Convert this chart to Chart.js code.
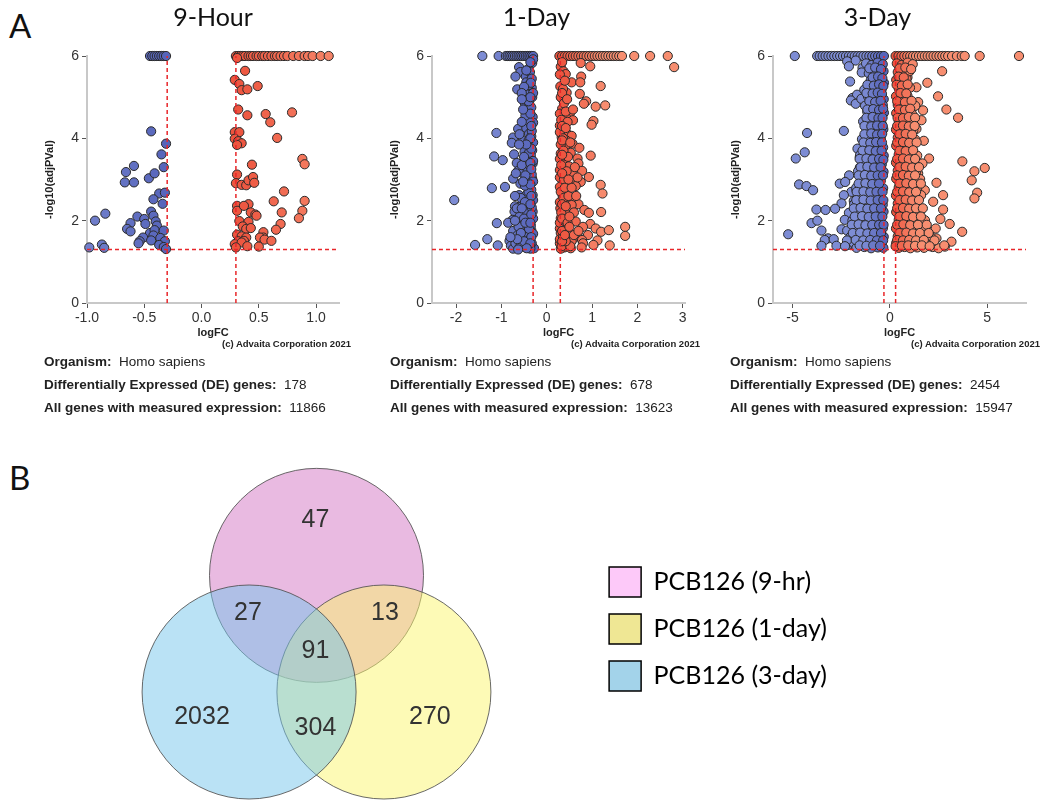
<!DOCTYPE html>
<html>
<head>
<meta charset="utf-8">
<script src="https://cdn.jsdelivr.net/npm/chart.js@4.4.1/dist/chart.umd.min.js"></script>
<style>
  body { margin: 0; background: #fff; width: 1050px; height: 807px; position: relative; overflow: hidden; }
  canvas { position: absolute; }
  .tag { position: absolute; font-family: Lato, sans-serif; font-size: 33px; color: #111; line-height: 1; }
  .copy { position: absolute; font-family: "Liberation Sans Narrow", "Liberation Sans", sans-serif; font-weight: bold; font-size: 9.5px; color: #222; text-align: right; width: 200px; line-height: 12px; }
  .info { position: absolute; font-family: "Liberation Sans Narrow", "Liberation Sans", sans-serif; font-size: 13.5px; color: #222; line-height: 23px; white-space: nowrap; }
  .info b { font-weight: bold; }
</style>
</head>
<body>
<div class="tag" style="left:9px; top:9px">A</div>
<div class="tag" style="left:9px; top:461px">B</div>

<canvas id="c9h" width="350" height="340" style="left:0px; top:0px"></canvas>
<canvas id="c1d" width="345" height="340" style="left:350px; top:0px"></canvas>
<canvas id="c3d" width="336" height="340" style="left:700px; top:0px"></canvas>
<canvas id="venn" width="707" height="370" style="left:130px; top:440px"></canvas>

<script>
// ---- data ----
const titles = ["9-Hour", "1-Day", "3-Day"];
const deCounts = [178, 678, 2454];
const allCounts = [11866, 13623, 15947];
const organism = "Homo sapiens";

const xTicks9h = [-1.0, -0.5, 0.0, 0.5, 1.0];
const xTicks1d = [-2, -1, 0, 1, 2, 3];
const xTicks3d = [-5, 0, 5];
const yTicks = [0, 2, 4, 6];

const fcCut = 0.3;   // |logFC| threshold
const pCut = 1.3;    // -log10(0.05)

// 9-hour, down (blue) and up (red): [logFC, -log10(adjP)]
const down9h = [
  [-0.45,6],[-0.43,6],[-0.41,6],[-0.39,6],[-0.37,6],[-0.35,6],[-0.33,6],[-0.31,6],
  [-0.44,4.17],[-0.31,3.87],[-0.35,3.61],[-0.33,3.30],[-0.59,3.33],[-0.66,3.18],[-0.67,2.93],[-0.59,2.93],
  [-0.46,3.03],[-0.41,3.15],[-0.37,2.66],[-0.32,2.68],[-0.42,2.52],[-0.34,2.41],[-0.84,2.17],[-0.93,2.00],
  [-0.44,2.22],[-0.42,2.12],[-0.56,2.10],[-0.50,2.04],[-0.62,1.94],[-0.49,1.92],[-0.40,1.98],[-0.39,1.88],
  [-0.65,1.80],[-0.62,1.74],[-0.45,1.70],[-0.41,1.77],[-0.33,1.76],[-0.51,1.59],[-0.42,1.64],[-0.54,1.50],
  [-0.55,1.45],[-0.44,1.52],[-0.36,1.58],[-0.32,1.50],[-0.98,1.35],[-0.87,1.42],[-0.85,1.34],[-0.37,1.41],
  [-0.33,1.36],[-0.31,1.31]
];
const up9h = [
  [0.30,6],[0.32,6],[0.34,6],[0.36,6],[0.38,6],[0.41,6],[0.43,6],[0.45,6],[0.48,6],[0.50,6],[0.53,6],[0.55,6],
  [0.58,6],[0.61,6],[0.64,6],[0.66,6],[0.69,6],[0.72,6],[0.75,6],[0.80,6],[0.85,6],[0.90,6],[0.93,6],[0.97,6],
  [1.04,6],[1.11,6],
  [0.31,5.95],[0.38,5.64],[0.29,5.42],[0.33,5.32],[0.35,5.17],[0.40,5.19],[0.49,5.27],[0.32,4.70],[0.40,4.56],
  [0.56,4.59],[0.60,4.39],[0.79,4.63],[0.66,4.01],[0.29,4.15],[0.33,4.15],[0.29,3.99],[0.32,3.93],[0.35,3.88],
  [0.31,3.84],[0.44,3.36],[0.88,3.50],[0.90,3.37],[0.31,3.12],[0.30,2.91],[0.35,2.87],[0.39,2.86],[0.41,2.98],
  [0.45,3.06],[0.46,2.92],[0.72,2.71],[0.63,2.47],[0.90,2.48],[0.31,2.36],[0.31,2.24],[0.41,2.40],[0.37,2.36],
  [0.43,2.20],[0.47,2.15],[0.48,2.12],[0.70,2.20],[0.88,2.24],[0.85,2.06],[0.33,1.99],[0.41,1.97],[0.36,1.86],
  [0.39,1.80],[0.43,1.82],[0.69,1.92],[0.65,1.78],[0.31,1.66],[0.35,1.62],[0.39,1.59],[0.32,1.50],[0.37,1.51],
  [0.29,1.43],[0.35,1.47],[0.40,1.38],[0.54,1.72],[0.54,1.59],[0.51,1.59],[0.55,1.54],[0.61,1.51],[0.50,1.37],
  [0.30,1.35]
];

// 1-day
const down1d = [
  [-1.42,6],[-1.06,6],[-0.90,6],[-0.86,6],[-0.82,6],[-0.78,6],[-0.74,6],[-0.70,6],[-0.66,6],[-0.62,6],[-0.58,6],
  [-0.54,6],[-0.50,6],[-0.46,6],[-0.42,6],[-0.38,6],[-0.34,6],[-0.30,6],
  [-0.32,5.83],[-0.61,5.73],[-0.40,5.69],[-0.58,5.61],[-0.69,5.50],[-0.46,5.50],[-0.37,5.61],[-0.45,5.36],
  [-0.33,5.23],[-0.65,5.19],[-0.50,4.98],[-0.42,5.06],[-0.48,4.85],[-0.38,4.82],[-0.32,5.00],[-0.44,4.60],
  [-0.40,4.48],[-0.31,4.52],[-0.63,4.23],[-0.45,4.25],[-0.39,4.11],[-1.11,4.13],[-0.74,4.02],[-0.77,3.89],
  [-0.53,3.95],[-0.34,4.05],[-0.41,3.79],[-0.32,3.71],[-0.49,3.67],[-1.16,3.56],[-0.97,3.47],[-0.72,3.61],
  [-0.66,3.40],[-0.41,3.50],[-0.31,3.39],[-0.63,3.21],[-0.53,3.15],[-0.42,3.23],[-0.74,3.02],[-0.45,3.02],
  [-0.32,3.02],[-0.58,2.90],[-1.21,2.79],[-0.92,2.82],[-0.38,2.82],[-0.61,2.62],[-0.45,2.62],[-0.31,2.62],
  [-2.04,2.50],[-0.70,2.35],[-0.53,2.42],[-0.38,2.35],[-0.71,2.22],[-0.45,2.22],[-0.31,2.22],[-0.60,2.10],
  [-0.75,2.02],[-0.85,1.95],[-1.10,1.94],[-0.56,1.90],[-0.38,1.94],[-0.74,1.75],[-0.50,1.75],[-0.34,1.77],
  [-0.64,1.65],[-0.44,1.61],[-1.31,1.55],[-0.82,1.51],[-0.58,1.53],[-0.39,1.53],[-1.58,1.41],[-1.08,1.40],
  [-0.79,1.39],[-0.74,1.32],[-0.47,1.35],[-0.34,1.37],[-0.28,1.33],
  [-0.30,5.92],[-0.33,5.45],[-0.30,5.10],[-0.34,4.75],[-0.30,4.38],[-0.33,4.18],[-0.30,3.90],[-0.35,3.58],
  [-0.30,3.45],[-0.33,3.12],[-0.30,2.95],[-0.34,2.75],[-0.30,2.50],[-0.33,2.32],[-0.30,2.05],[-0.35,1.88],
  [-0.30,1.68],[-0.33,1.45],[-0.36,1.32],[-0.39,5.30],[-0.40,4.90],[-0.38,4.40],[-0.40,3.95],[-0.39,3.65],
  [-0.38,3.35],[-0.40,2.70],[-0.38,2.45],[-0.41,2.05],[-0.39,1.80],[-0.40,1.45],[-0.48,2.85],[-0.50,2.05],
  [-0.52,1.40],[-0.55,3.35],[-0.47,4.55],[-0.57,2.55],[-0.62,1.85],[-0.66,2.30],[-0.69,1.45],[-0.60,1.35],
  [-0.36,5.85],[-0.45,5.65],[-0.35,5.35],[-0.50,5.25],[-0.36,5.00],[-0.55,5.10],[-0.36,4.60],[-0.52,4.70],
  [-0.34,4.30],[-0.55,4.40],[-0.36,4.00],[-0.60,4.10],[-0.34,3.75],[-0.45,3.85],[-0.36,3.40],[-0.50,3.55],
  [-0.34,3.25],[-0.47,3.10],[-0.36,2.88],[-0.52,2.95],[-0.34,2.60],[-0.48,2.45],[-0.36,2.40],[-0.55,2.30],
  [-0.34,2.15],[-0.47,1.95],[-0.36,1.95],[-0.57,1.70],[-0.34,1.60],[-0.50,1.50],[-0.36,1.45],[-0.44,1.33],
  [-0.65,1.55],[-0.70,2.60],[-0.68,3.15],[-0.61,3.85],[-0.55,4.95],[-0.70,2.00],[-0.80,1.60],[-0.63,1.30]
];
const up1d = [
  [0.28,6],[0.34,6],[0.40,6],[0.46,6],[0.52,6],[0.58,6],[0.64,6],[0.70,6],[0.76,6],[0.82,6],[0.88,6],[0.94,6],
  [1.00,6],[1.06,6],[1.12,6],[1.18,6],[1.24,6],[1.30,6],[1.36,6],[1.42,6],[1.48,6],[1.54,6],[1.60,6],[1.66,6],
  [1.93,6],[2.28,6],[2.67,6],[2.81,5.73],
  [0.75,5.83],[0.31,5.74],[0.37,5.63],[0.42,5.56],[0.96,5.75],[0.76,5.50],[0.55,5.36],[0.74,5.36],[0.30,5.26],
  [1.19,5.27],[0.44,5.11],[0.73,5.08],[0.33,4.98],[0.87,4.90],[0.82,4.84],[1.08,4.77],[1.29,4.80],[0.34,4.72],
  [0.52,4.63],[0.42,4.52],[0.58,4.44],[1.03,4.42],[0.99,4.33],[0.29,4.31],[0.38,4.23],[0.46,4.10],[0.55,4.06],
  [0.33,4.03],[0.43,3.95],[0.57,3.87],[0.72,3.77],[0.41,3.79],[0.31,3.63],[0.53,3.65],[0.97,3.58],[0.68,3.51],
  [0.39,3.43],[0.70,3.39],[0.49,3.32],[0.29,3.23],[0.78,3.21],[0.57,3.16],[0.93,3.06],[0.39,2.98],[0.61,2.98],
  [0.75,2.94],[1.19,2.87],[0.29,2.82],[0.50,2.78],[0.64,2.84],[1.23,2.66],[0.35,2.62],[0.41,2.50],[0.57,2.48],
  [0.70,2.40],[0.55,2.38],[0.30,2.30],[0.83,2.26],[0.93,2.19],[1.20,2.21],[0.44,2.16],[0.31,2.06],[0.53,2.02],
  [0.64,1.98],[0.96,1.92],[0.41,1.87],[0.80,1.85],[0.29,1.81],[1.08,1.81],[1.20,1.73],[1.37,1.77],[1.73,1.85],
  [0.50,1.71],[0.68,1.69],[0.91,1.65],[1.73,1.63],[0.35,1.61],[0.59,1.57],[0.78,1.53],[1.12,1.52],[0.29,1.45],
  [0.50,1.45],[0.80,1.45],[1.03,1.41],[1.39,1.40],[0.39,1.35],[0.53,1.33],[0.77,1.35],[0.31,1.32],
  [0.29,5.55],[0.31,5.00],[0.29,4.60],[0.32,4.45],[0.29,4.15],[0.31,3.85],[0.29,3.50],[0.32,3.35],[0.29,3.05],
  [0.31,2.70],[0.29,2.45],[0.32,2.20],[0.29,1.95],[0.31,1.70],[0.29,1.55],[0.33,1.38],[0.36,5.20],[0.38,4.85],
  [0.36,4.00],[0.37,3.70],[0.38,3.00],[0.37,2.55],[0.38,2.00],[0.36,1.60],[0.45,1.75],[0.48,2.60],[0.47,3.55],
  [0.46,4.40],[0.55,1.50],[0.60,2.20],[0.62,3.30],[0.52,1.38],
  [0.34,5.85],[0.40,5.40],[0.34,5.10],[0.45,4.95],[0.34,4.30],[0.42,4.65],[0.34,3.95],[0.42,4.25],[0.34,3.60],
  [0.44,3.20],[0.34,3.15],[0.40,2.80],[0.34,2.40],[0.42,2.35],[0.34,2.05],[0.46,1.95],[0.34,1.75],[0.42,1.50],
  [0.34,1.50],[0.40,1.65],[0.50,2.10],[0.55,2.80],[0.52,3.90],[0.58,4.70],[0.60,1.65],[0.65,2.60],[0.70,1.75],
  [0.68,3.05],[0.48,3.00],[0.50,1.85]
];

// 3-day
const down3d = [
  [-4.88,6],[-3.73,6],[-3.60,6],[-3.45,6],[-3.30,6],[-3.15,6],[-3.00,6],[-2.85,6],[-2.70,6],[-2.55,6],[-2.40,6],
  [-2.25,6],[-2.10,6],[-1.95,6],[-1.80,6],[-1.65,6],[-1.50,6],[-1.35,6],[-1.20,6],[-1.05,6],[-0.90,6],[-0.75,6],
  [-0.60,6],[-0.45,6],[-0.30,6],
  [-2.19,5.87],[-1.75,5.89],[-2.10,5.75],[-1.40,5.71],[-1.44,5.60],[-1.03,5.77],[-2.04,5.38],[-0.86,5.56],
  [-1.92,4.98],[-1.68,5.06],[-2.00,4.92],[-1.75,4.84],[-1.46,4.96],[-1.03,5.00],[-0.68,5.24],[-1.16,4.65],
  [-0.94,4.53],[-0.72,4.68],[-2.36,4.18],[-4.25,4.13],[-1.06,4.23],[-0.60,4.19],[-1.66,3.75],[-1.54,3.55],
  [-1.03,3.79],[-0.51,3.87],[-4.37,3.66],[-4.83,3.51],[-1.54,3.29],[-0.86,3.39],[-2.09,3.10],[-1.11,3.06],
  [-4.66,2.88],[-4.28,2.84],[-3.94,2.74],[-2.57,2.90],[-2.29,2.94],[-1.97,2.70],[-2.36,2.62],[-1.71,2.74],
  [-1.03,2.66],[-1.85,2.48],[-1.51,2.42],[-2.48,2.42],[-3.77,2.27],[-3.30,2.26],[-2.81,2.29],[-2.10,2.19],
  [-4.02,1.94],[-3.72,2.00],[-2.31,2.02],[-1.71,2.06],[-1.03,2.02],[-3.51,1.76],[-2.48,1.79],[-2.19,1.76],
  [-5.22,1.67],[-1.54,1.73],[-3.17,1.57],[-3.34,1.53],[-2.88,1.55],[-2.05,1.55],[-1.37,1.61],[-3.51,1.39],
  [-2.74,1.39],[-2.14,1.41],[-1.75,1.37],[-1.03,1.37],[-0.60,1.39],
  [-1.22,5.82],[-0.93,5.78],[-0.62,5.84],[-0.36,5.80],[-1.08,5.58],[-0.79,5.62],[-0.52,5.55],[-0.32,5.63],
  [-0.98,5.41],[-0.74,5.36],[-0.47,5.44],[-0.30,5.35],[-1.31,5.18],[-0.96,5.22],[-0.66,5.15],[-0.41,5.20],
  [-1.12,5.02],[-0.81,4.97],[-0.51,5.04],[-0.31,4.95],[-1.27,4.79],[-0.92,4.83],[-0.61,4.76],[-0.36,4.81],
  [-1.02,4.60],[-0.71,4.64],[-0.46,4.57],[-0.30,4.62],[-1.37,4.41],[-1.01,4.38],[-0.72,4.44],[-0.42,4.36],
  [-1.19,4.20],[-0.86,4.23],[-0.57,4.17],[-0.33,4.22],[-1.43,3.98],[-1.06,4.03],[-0.76,3.96],[-0.46,4.01],
  [-1.28,3.81],[-0.94,3.77],[-0.62,3.83],[-0.34,3.78],[-1.52,3.60],[-1.16,3.63],[-0.82,3.57],[-0.51,3.61],
  [-0.31,3.58],[-1.41,3.42],[-1.04,3.38],[-0.71,3.44],[-0.41,3.37],[-1.63,3.20],[-1.24,3.23],[-0.91,3.17],
  [-0.56,3.22],[-0.32,3.19],[-1.49,3.01],[-1.14,2.98],[-0.79,3.03],[-0.46,2.97],[-1.72,2.80],[-1.36,2.83],
  [-1.01,2.77],[-0.66,2.82],[-0.34,2.79],[-1.57,2.61],[-1.21,2.58],[-0.86,2.63],[-0.51,2.57],[-1.83,2.40],
  [-1.42,2.43],[-1.06,2.37],[-0.71,2.42],[-0.36,2.39],[-1.66,2.21],[-1.31,2.18],[-0.96,2.23],[-0.61,2.17],
  [-0.32,2.22],[-1.92,2.00],[-1.52,2.03],[-1.16,1.97],[-0.81,2.02],[-0.46,1.98],[-1.77,1.81],[-1.41,1.78],
  [-1.06,1.83],[-0.71,1.77],[-0.35,1.82],[-2.03,1.60],[-1.62,1.63],[-1.26,1.57],[-0.91,1.62],[-0.56,1.58],
  [-0.31,1.61],[-1.86,1.46],[-1.46,1.44],[-1.11,1.47],[-0.76,1.43],[-0.41,1.46],[-1.71,1.34],[-1.31,1.36],
  [-0.96,1.33],[-0.61,1.35],[-0.33,1.34],
  [-1.05,5.70],[-0.75,5.72],[-0.45,5.68],[-0.88,5.48],[-0.60,5.50],[-0.38,5.46],[-1.15,5.30],[-0.82,5.28],
  [-0.55,5.31],[-0.33,5.27],[-1.20,5.10],[-0.88,5.09],[-0.62,5.11],[-0.40,5.08],[-1.05,4.90],[-0.75,4.88],
  [-0.47,4.91],[-1.15,4.70],[-0.85,4.71],[-0.55,4.69],[-0.34,4.72],[-1.20,4.50],[-0.88,4.52],[-0.58,4.49],
  [-0.37,4.50],[-1.30,4.30],[-0.95,4.29],[-0.65,4.31],[-0.36,4.30],[-1.30,4.10],[-0.95,4.12],[-0.65,4.09],
  [-0.39,4.11],[-1.35,3.90],[-1.00,3.89],[-0.70,3.91],[-0.40,3.90],[-1.40,3.70],[-1.05,3.71],[-0.72,3.69],
  [-0.42,3.70],[-1.55,3.50],[-1.20,3.51],[-0.88,3.49],[-0.55,3.50],[-0.33,3.48],[-1.50,3.30],[-1.15,3.31],
  [-0.80,3.29],[-0.47,3.30],[-1.60,3.10],[-1.28,3.11],[-0.95,3.09],[-0.62,3.10],[-0.35,3.10],[-1.60,2.90],
  [-1.25,2.91],[-0.90,2.89],[-0.55,2.90],[-1.70,2.70],[-1.35,2.71],[-1.00,2.69],[-0.68,2.70],[-0.37,2.70],
  [-1.72,2.50],[-1.35,2.51],[-0.98,2.49],[-0.62,2.50],[-0.33,2.50],[-1.85,2.30],[-1.50,2.31],[-1.15,2.29],
  [-0.80,2.30],[-0.45,2.30],[-1.80,2.10],[-1.42,2.11],[-1.08,2.09],[-0.72,2.10],[-0.38,2.10],[-1.95,1.90],
  [-1.60,1.91],[-1.25,1.89],[-0.90,1.90],[-0.55,1.90],[-0.32,1.90],[-1.90,1.70],[-1.52,1.71],[-1.15,1.69],
  [-0.80,1.70],[-0.45,1.70],[-2.20,1.52],[-1.75,1.53],[-1.36,1.52],[-1.00,1.53],[-0.66,1.52],[-0.34,1.52],
  [-2.30,1.38],[-1.55,1.40],[-1.20,1.39],[-0.85,1.40],[-0.50,1.39]
];
const up3d = [
  [0.30,6],[0.45,6],[0.60,6],[0.75,6],[0.90,6],[1.05,6],[1.20,6],[1.35,6],[1.50,6],[1.65,6],[1.80,6],[1.95,6],
  [2.10,6],[2.25,6],[2.40,6],[2.55,6],[2.70,6],[2.85,6],[3.00,6],[3.20,6],[3.45,6],[3.70,6],[3.85,6],[4.62,6],
  [6.64,6],
  [2.69,5.63],[1.93,5.35],[2.48,5.02],[2.91,4.70],[3.51,4.50],[3.73,3.44],[4.88,3.28],[4.35,3.20],[4.21,2.98],
  [4.49,2.68],[4.35,2.54],[2.40,2.92],[2.74,2.62],[2.02,3.51],[1.68,3.39],[1.75,3.94],[1.37,4.23],[1.63,4.44],
  [1.71,4.68],[1.46,4.88],[1.20,4.76],[0.91,5.48],[0.86,5.65],[1.37,5.24],[2.23,2.46],[2.74,2.27],[2.60,2.04],
  [3.08,1.92],[3.72,1.73],[3.17,1.49],[2.83,1.37],[2.40,1.57],[2.05,1.73],[1.88,1.45],[2.36,1.81],[1.37,2.50],
  [1.80,2.74],[1.03,2.98],[1.46,3.15],[1.03,3.71],[1.20,3.87],[1.54,2.02],[1.68,1.69],
  [0.36,5.82],[0.61,5.78],[0.92,5.84],[1.18,5.80],[0.41,5.61],[0.71,5.57],[1.02,5.63],[0.33,5.42],[0.56,5.37],
  [0.86,5.44],[0.46,5.21],[0.76,5.17],[1.04,5.23],[0.32,5.02],[0.61,4.97],[0.91,5.03],[0.41,4.81],[0.71,4.78],
  [1.01,4.83],[1.31,4.79],[0.33,4.61],[0.56,4.57],[0.86,4.63],[1.16,4.58],[0.46,4.42],[0.76,4.37],[1.06,4.43],
  [0.32,4.21],[0.61,4.18],[0.91,4.23],[1.21,4.19],[0.41,4.02],[0.71,3.98],[1.01,4.03],[1.31,3.97],[0.33,3.82],
  [0.56,3.78],[0.86,3.83],[1.16,3.79],[0.46,3.61],[0.76,3.57],[1.06,3.62],[1.41,3.58],[0.32,3.41],[0.61,3.38],
  [0.91,3.43],[1.26,3.37],[0.41,3.22],[0.71,3.18],[1.01,3.23],[1.36,3.19],[0.33,3.02],[0.56,2.98],[0.86,3.03],
  [1.21,2.97],[1.56,3.01],[0.46,2.81],[0.76,2.78],[1.06,2.83],[1.41,2.79],[0.32,2.61],[0.61,2.57],[0.91,2.63],
  [1.26,2.58],[1.61,2.62],[0.41,2.42],[0.71,2.38],[1.01,2.43],[1.36,2.37],[0.33,2.21],[0.56,2.18],[0.86,2.23],
  [1.21,2.17],[1.56,2.22],[0.46,2.02],[0.76,1.98],[1.06,2.03],[1.41,1.97],[1.81,2.01],[0.32,1.81],[0.61,1.78],
  [0.91,1.83],[1.26,1.77],[1.61,1.82],[0.41,1.62],[0.71,1.58],[1.01,1.63],[1.36,1.57],[1.71,1.61],[2.11,1.59],
  [0.33,1.46],[0.56,1.43],[0.86,1.47],[1.21,1.44],[1.56,1.46],[1.91,1.43],[0.46,1.34],[0.76,1.36],[1.06,1.33],
  [1.41,1.35],[1.76,1.34],[2.21,1.36],[2.51,1.33],
  [0.50,5.70],[0.80,5.72],[1.10,5.68],[0.45,5.50],[0.72,5.48],[0.35,5.30],[0.62,5.28],[0.92,5.31],[0.55,5.10],
  [0.85,5.09],[0.38,4.90],[0.78,4.88],[1.12,4.91],[0.47,4.70],[0.78,4.69],[1.05,4.72],[0.40,4.50],[0.68,4.49],
  [0.98,4.52],[1.30,4.50],[0.38,4.30],[0.68,4.31],[0.98,4.29],[1.28,4.30],[0.50,4.10],[0.82,4.11],[1.15,4.09],
  [0.38,3.90],[0.68,3.91],[1.00,3.89],[1.38,3.90],[0.50,3.70],[0.82,3.69],[1.20,3.71],[0.38,3.50],[0.68,3.51],
  [0.98,3.49],[1.30,3.50],[0.50,3.30],[0.82,3.31],[1.15,3.29],[1.50,3.30],[0.38,3.10],[0.68,3.11],[0.98,3.09],
  [1.30,3.10],[0.50,2.90],[0.85,2.91],[1.20,2.89],[1.60,2.90],[0.38,2.70],[0.68,2.71],[1.00,2.69],[1.35,2.70],
  [0.50,2.50],[0.82,2.51],[1.15,2.49],[1.50,2.50],[0.38,2.30],[0.68,2.31],[1.00,2.29],[1.35,2.30],[1.70,2.30],
  [0.50,2.10],[0.85,2.11],[1.20,2.09],[1.60,2.10],[0.38,1.90],[0.70,1.91],[1.05,1.89],[1.45,1.90],[1.90,1.90],
  [0.50,1.70],[0.85,1.71],[1.20,1.69],[1.55,1.70],[2.00,1.70],[0.38,1.53],[0.68,1.52],[1.00,1.53],[1.35,1.52],
  [1.75,1.53],[2.30,1.52],[0.30,1.38],[0.62,1.39],[0.95,1.40],[1.30,1.39],[1.65,1.40],[2.05,1.38],[2.80,1.40]
];

// Venn
const vennSets = ["PCB126 (9-hr)", "PCB126 (1-day)", "PCB126 (3-day)"];
const vennCenterX = [0, 0.63, -0.63];      // in circle-radius units
const vennCenterY = [1.09, 0, 0];
const regionCounts = [47, 27, 13, 91, 2032, 304, 270];
const regionX = [-0.01, -0.64, 0.64, -0.01, -1.07, -0.01, 1.06];
const regionY = [1.61, 0.74, 0.74, 0.386, -0.23, -0.34, -0.23];

// ---- styling ----
const RED = "#e8262a";
function pointShade(x, up) {
  const t = Math.min(1, Math.max(0, (Math.abs(x) - fcCut) / 1.0));
  const a = up ? [237, 84, 62] : [86, 100, 186];
  const b = up ? [247, 142, 112] : [125, 140, 212];
  const c = a.map((v, i) => Math.round(v + (b[i] - v) * t));
  return "rgb(" + c.join(",") + ")";
}

const panels = [
  { id: "c9h", data: [down9h, up9h], xMin: -1.0, xMax: 1.2, xTicks: xTicks9h, dec: 1, padL: 43, padR: 11, fullTitle: false },
  { id: "c1d", data: [down1d, up1d], xMin: -2.53, xMax: 3.05, xTicks: xTicks1d, dec: 0, padL: 38, padR: 10, fullTitle: true },
  { id: "c3d", data: [down3d, up3d], xMin: -6, xMax: 7, xTicks: xTicks3d, dec: 0, padL: 29, padR: 10, fullTitle: true }
];

const tickFont = { family: "'Liberation Sans', Arial, sans-serif", size: 14 };
const axisTitleFont = { family: "'Liberation Sans', Arial, sans-serif", size: 11, weight: "bold" };

function guide(points) {
  return {
    data: points, showLine: true, pointRadius: 0, borderColor: RED,
    borderWidth: 1.5, borderDash: [4, 3], order: 0, clip: false
  };
}

panels.forEach((p, k) => {
  const pts = (arr) => arr.map(d => ({ x: d[0], y: d[1] }));
  const dots = (arr, up) => ({
    data: pts(arr), order: 1, clip: false,
    pointRadius: 4.6, pointBorderWidth: 1, pointBorderColor: "#2a2a2a",
    pointBackgroundColor: ctx => pointShade(ctx.raw ? ctx.raw.x : 0, up)
  });
  new Chart(document.getElementById(p.id), {
    type: "scatter",
    data: {
      datasets: [
        guide([{ x: -fcCut, y: 0 }, { x: -fcCut, y: 6 }]),
        guide([{ x: fcCut, y: 0 }, { x: fcCut, y: 6 }]),
        guide([{ x: p.xMin, y: pCut }, { x: p.xMax, y: pCut }]),
        dots(p.data[0], false),
        dots(p.data[1], true)
      ]
    },
    options: {
      responsive: false, animation: false, events: [],
      layout: { autoPadding: false, padding: { left: p.padL, right: p.padR, top: 0, bottom: 0 } },
      plugins: {
        legend: { display: false },
        tooltip: { enabled: false },
        title: {
          display: true, text: titles[k], fullSize: p.fullTitle, color: "#111",
          font: { family: "Lato, sans-serif", size: 25, weight: "normal" },
          padding: { top: 3, bottom: 23 }
        }
      },
      scales: {
        x: {
          type: "linear", min: p.xMin, max: p.xMax,
          afterBuildTicks: s => { s.ticks = p.xTicks.map(v => ({ value: v })); },
          afterFit: s => { s.height = 37; },
          ticks: { font: tickFont, color: "#333", padding: 2, callback: v => v.toFixed(p.dec) },
          grid: { drawOnChartArea: false, tickLength: 5, color: "#555" },
          border: { color: "#c8c8c8", width: 2 },
          title: { display: true, text: "logFC", font: axisTitleFont, color: "#222", padding: 0 }
        },
        y: {
          type: "linear", min: 0, max: 6,
          afterBuildTicks: s => { s.ticks = yTicks.map(v => ({ value: v })); },
          afterFit: s => { s.width = 44; },
          ticks: { font: tickFont, color: "#333", padding: 3 },
          grid: { drawOnChartArea: false, tickLength: 5, color: "#555" },
          border: { color: "#c8c8c8", width: 2 },
          title: { display: true, text: "-log10(adjPVal)", font: axisTitleFont, color: "#222", padding: 0 }
        }
      }
    }
  });
});

// captions under each volcano plot
const infoLeft = [44, 390, 730];
const copyRight = [351, 700, 1040];
titles.forEach((t, k) => {
  const c = document.createElement("div");
  c.className = "copy";
  c.style.left = (copyRight[k] - 200) + "px";
  c.style.top = "338px";
  c.textContent = "(c) Advaita Corporation 2021";
  document.body.appendChild(c);

  const d = document.createElement("div");
  d.className = "info";
  d.style.left = infoLeft[k] + "px";
  d.style.top = "350px";
  d.innerHTML = "<div><b>Organism:</b>&nbsp; " + organism + "</div>" +
    "<div><b>Differentially Expressed (DE) genes:</b>&nbsp; " + deCounts[k] + "</div>" +
    "<div><b>All genes with measured expression:</b>&nbsp; " + allCounts[k] + "</div>";
  document.body.appendChild(d);
});

// ---- Venn diagram as a bubble chart ----
const VENN_R = 107;          // circle radius in px = 1 unit
const VENN_TOP = 8;          // layout padding above the circles
const VENN_X0 = -186.5 / VENN_R;
const vennFill = ["rgba(211,117,195,0.5)", "rgba(251,245,109,0.5)", "rgba(117,197,235,0.5)"];
const legendFill = ["#fdc9f9", "#efe794", "#a3d3ea"];
const vennOrder = [3, 2, 1];   // pink at the bottom, blue on top

const roundCircles = {
  id: "roundCircles",
  afterLayout(chart) {
    const s = chart.scales.x;
    s.min = VENN_X0;
    s.max = VENN_X0 + chart.chartArea.width / VENN_R;
    s.configure();
  }
};
const regionLabels = {
  id: "regionLabels",
  afterDatasetsDraw(chart) {
    const { ctx, scales } = chart;
    ctx.save();
    ctx.font = "25px 'Liberation Sans', Arial, sans-serif";
    ctx.fillStyle = "#333";
    ctx.textAlign = "center";
    ctx.textBaseline = "middle";
    regionCounts.forEach((n, i) => {
      ctx.fillText(String(n), scales.x.getPixelForValue(regionX[i]), scales.y.getPixelForValue(regionY[i]));
    });
    ctx.restore();
  }
};

new Chart(document.getElementById("venn"), {
  type: "bubble",
  data: {
    datasets: vennSets.map((name, i) => ({
      label: name,
      data: [{ x: vennCenterX[i], y: vennCenterY[i] }],
      radius: VENN_R,
      backgroundColor: vennFill[i],
      borderColor: "rgba(80,80,80,0.85)",
      borderWidth: 1,
      order: vennOrder[i],
      clip: false
    }))
  },
  options: {
    responsive: false, animation: false, events: [],
    layout: { autoPadding: false, padding: { top: VENN_TOP, left: 0, right: 0, bottom: 0 } },
    scales: {
      x: { type: "linear", display: false, min: VENN_X0, max: 2 },
      y: { type: "linear", display: false, min: -(370 - 252) / VENN_R, max: (252 - VENN_TOP) / VENN_R }
    },
    plugins: {
      tooltip: { enabled: false },
      legend: {
        position: "right", align: "center",
        labels: {
          boxWidth: 32, boxHeight: 30, padding: 17, color: "#111",
          font: { family: "Lato, sans-serif", size: 25 },
          generateLabels: () => vennSets.map((name, i) => ({
            text: name, fillStyle: legendFill[i], strokeStyle: "#000", lineWidth: 1.5,
            hidden: false, datasetIndex: i
          }))
        }
      }
    }
  },
  plugins: [roundCircles, regionLabels]
});
</script>
</body>
</html>
